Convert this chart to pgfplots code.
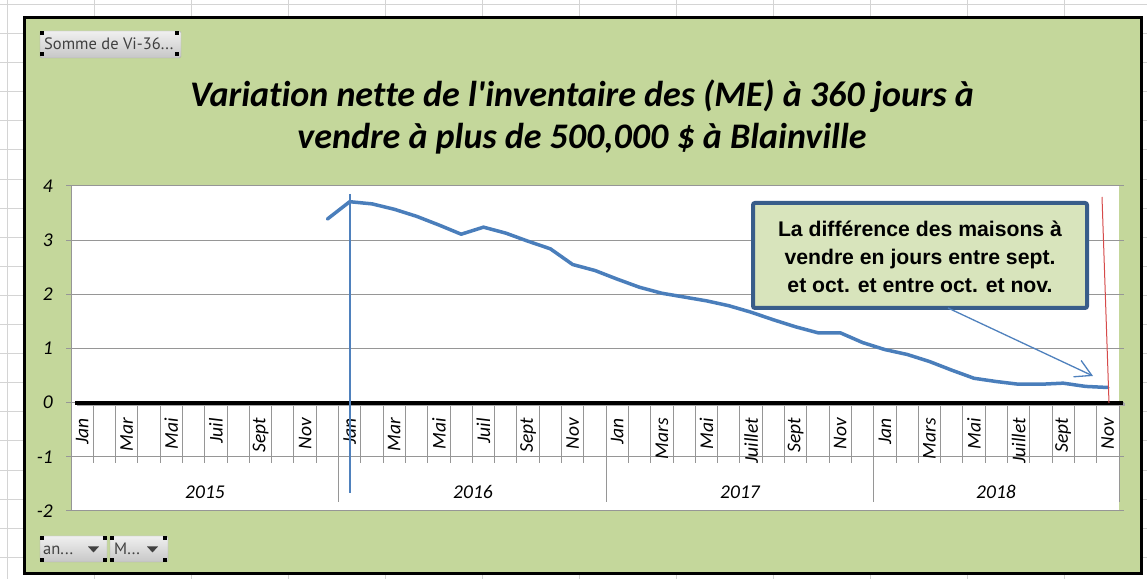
\documentclass[border=0pt]{standalone}
\usepackage{fontspec}
\setmainfont{Carlito}[Ligatures={TeX,NoCommon}]
\newfontfamily\titlefont{Carlito}[Ligatures=NoCommon]
\newfontfamily\arialfont{Liberation Sans}
\newfontfamily\btnfont{PT Sans}
\usepackage{pgfplots}
\pgfplotsset{compat=1.18}
\usetikzlibrary{arrows.meta}
\definecolor{chartgreen}{RGB}{196,215,155}
\definecolor{boxgreen}{RGB}{216,228,188}
\definecolor{boxblue}{RGB}{56,93,138}
\definecolor{lineblue}{RGB}{74,126,187}
\definecolor{accblue}{RGB}{79,129,189}
\definecolor{gridgrey}{RGB}{150,150,150}
\definecolor{xlgrey}{RGB}{212,212,212}
\definecolor{redline}{RGB}{214,74,74}
\begin{document}
\begin{tikzpicture}[x=1bp,y=1bp]
\useasboundingbox (0,0) rectangle (1147,579);
\fill[white] (0,0) rectangle (1147,579);
\foreach \gx in {7,94,191,288,385,482,579,676,773,870,967,1064}
  \draw[xlgrey, line width=1bp] (\gx,0) -- (\gx,579);
\foreach \k in {0,...,19}
  \draw[xlgrey, line width=1bp] (0,{579-4.5-29.1*\k}) -- (1147,{579-4.5-29.1*\k});
\filldraw[fill=chartgreen, draw=black, line width=3bp] (24,561) rectangle (1141.5,5.5);
\begin{axis}[
  at={(71bp,68bp)}, anchor=south west,
  scale only axis, width=1048bp, height=325bp,
  xmin=-0.5, xmax=46.5, ymin=-2, ymax=4,
  axis background/.style={fill=white},
  axis line style={draw=none},
  xtick={0,2,...,46},
  xticklabels={Jan,Mar,Mai,Juil,Sept,Nov,Jan,Mar,Mai,Juil,Sept,Nov,Jan,Mars,Mai,Juillet,Sept,Nov,Jan,Mars,Mai,Juillet,Sept,Nov},
  x tick style={draw=none},
  xticklabel style={font=\fontsize{19.5bp}{20bp}\selectfont\itshape, inner sep=0pt, yshift=98bp, rotate=90, anchor=east},
  ytick={-2,-1,0,1,2,3,4},
  yticklabels={-2,-1,0,1,2,3,4},
  ymajorgrids, major grid style={gridgrey, line width=1bp},
  y tick style={gridgrey, line width=1bp},
  tick align=outside, major tick length=5bp,
  yticklabel style={font=\fontsize{19.5bp}{20bp}\selectfont\itshape, inner sep=0pt, xshift=-13bp},
  clip=false,
]
\addplot[lineblue, line width=3.5bp, line join=round, line cap=round] coordinates {
(11,3.39) (12,3.71) (13,3.67) (14,3.57) (15,3.44) (16,3.28) (17,3.11) (18,3.24)
(19,3.13) (20,2.98) (21,2.84) (22,2.55) (23,2.44) (24,2.28) (25,2.13) (26,2.02)
(27,1.95) (28,1.88) (29,1.79) (30,1.67) (31,1.53) (32,1.40) (33,1.29) (34,1.29)
(35,1.11) (36,0.98) (37,0.89) (38,0.76) (39,0.60) (40,0.45) (41,0.39) (42,0.34)
(43,0.34) (44,0.36) (45,0.30) (46,0.28)
};
\end{axis}
% category tick marks
\foreach \i in {1,...,46}
  \draw[gridgrey, line width=1bp] ({71+1048/47*\i},176) -- ({71+1048/47*\i},116);
\foreach \i in {12,24,36,47}
  \draw[gridgrey, line width=1bp] ({71+1048/47*\i},176) -- ({71+1048/47*\i},77);
\draw[gridgrey, line width=1bp] (71,393) -- (71,68);
% zero line
\draw[black!35, line width=3.5bp] (76.5,174.5) -- (1124.5,174.5);
\draw[black, line width=3.5bp] (75,176) -- (1123,176);
% years
\node[anchor=base, font=\fontsize{19.5bp}{20bp}\selectfont\itshape, inner sep=0] at (205,80) {2015};
\node[anchor=base, font=\fontsize{19.5bp}{20bp}\selectfont\itshape, inner sep=0] at (473,80) {2016};
\node[anchor=base, font=\fontsize{19.5bp}{20bp}\selectfont\itshape, inner sep=0] at (740,80) {2017};
\node[anchor=base, font=\fontsize{19.5bp}{20bp}\selectfont\itshape, inner sep=0] at (996,80) {2018};
% annotation lines
\draw[accblue, line width=1.3bp] (350,385) -- (350,86);
\draw[redline, line width=1bp] (1102,382) -- (1109,176);
% box
\filldraw[fill=boxgreen, draw=boxblue, line width=4bp, rounded corners=2bp] (753,376) rectangle (1087,271);
\node[anchor=base, font=\arialfont\bfseries\fontsize{21.2bp}{22bp}\selectfont, inner sep=0] at (920,342) {La différence des maisons à};
\node[anchor=base, font=\arialfont\bfseries\fontsize{21.2bp}{22bp}\selectfont, inner sep=0] at (920,314) {vendre en jours entre sept.};
\node[anchor=base, font=\arialfont\bfseries\fontsize{21.2bp}{22bp}\selectfont, inner sep=0] at (920,286) {et oct. et entre oct. et nov.};
\draw[accblue, line width=1.3bp, -{Straight Barb[length=16bp,width=18bp,line width=1.3bp]}] (948,271) -- (1093,203);
% title
\node[anchor=base, font=\titlefont\fontsize{36bp}{40bp}\selectfont\bfseries\itshape, inner sep=0] at (582,472) {Variation nette de l'inventaire des (ME) à 360 jours à};
\node[anchor=base, font=\titlefont\fontsize{36bp}{40bp}\selectfont\bfseries\itshape, inner sep=0] at (582,430) {vendre à plus de 500,000 \$ à Blainville};
% buttons
\shade[top color=white!94!black, bottom color=white!78!black, draw=white!68!black, rounded corners=1.5bp] (40,548) rectangle (181,521);
\node[anchor=base west, font=\btnfont\fontsize{16.5bp}{17bp}\selectfont, text=black!75, inner sep=0] at (44,529) {Somme de Vi-36...};
\fill[black] (40,544) rectangle +(4,4);
\fill[black] (175,544) rectangle +(4,4);
\fill[black] (40,523) rectangle +(4,4);
\fill[black] (175,523) rectangle +(4,4);
\shade[top color=white!94!black, bottom color=white!78!black, draw=white!68!black, rounded corners=1.5bp] (40,43) rectangle (107,17);
\shade[top color=white!94!black, bottom color=white!78!black, draw=white!68!black, rounded corners=1.5bp] (110,43) rectangle (168,17);
\node[anchor=base west, font=\btnfont\fontsize{16.5bp}{17bp}\selectfont, text=black!75, inner sep=0] at (43,24) {an...};
\node[anchor=base west, font=\btnfont\fontsize{16.5bp}{17bp}\selectfont, text=black!75, inner sep=0] at (114,24) {M...};
\fill[black!75] (88,32.5) -- (99,32.5) -- (93.5,26.5) -- cycle;
\fill[black!75] (147,32.5) -- (158,32.5) -- (152.5,26.5) -- cycle;
\foreach \bx in {40,103,110,163}{
  \fill[black] (\bx,39) rectangle +(4,4);
  \fill[black] (\bx,17) rectangle +(4,4);
}
\end{tikzpicture}
\end{document}
